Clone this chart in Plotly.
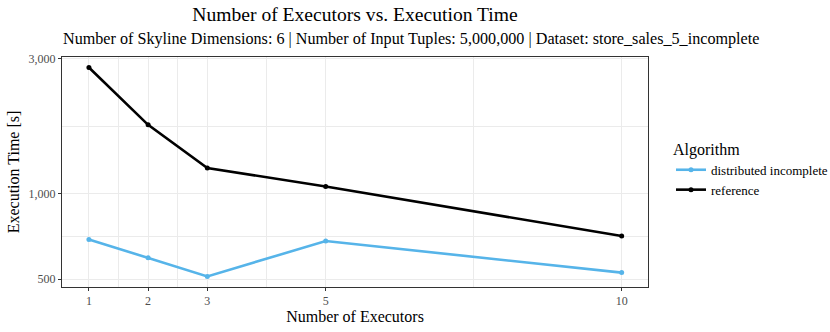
import plotly.graph_objects as go

executors = [1, 2, 3, 5, 10]
distributed_incomplete = [690, 595, 511, 681, 527]
reference = [2790, 1750, 1233, 1061, 709]

x_ticks = [1, 2, 3, 5, 10]
x_minor = [1.5, 2.5, 4, 7.5]
y_ticks = [500, 1000, 3000]
y_tick_labels = ["500", "1,000", "3,000"]
y_minor = [707.1, 1732]

FONT = "Liberation Serif"
GRID = "#EBEBEB"
AXIS = "#333333"

fig = go.Figure()
fig.add_trace(
    go.Scatter(
        x=executors,
        y=distributed_incomplete,
        name="distributed incomplete",
        mode="lines+markers",
        line=dict(color="#56B4E9", width=2.6),
        marker=dict(size=5),
    )
)
fig.add_trace(
    go.Scatter(
        x=executors,
        y=reference,
        name="reference",
        mode="lines+markers",
        line=dict(color="#000000", width=2.6),
        marker=dict(size=5),
    )
)

fig.update_xaxes(
    range=[0.545, 10.445],
    tickvals=x_ticks,
    ticks="outside",
    ticklen=3,
    tickcolor=AXIS,
    tickfont=dict(size=12, color="#4D4D4D"),
    showgrid=True,
    gridcolor=GRID,
    gridwidth=1,
    minor=dict(tickvals=x_minor, showgrid=True, gridcolor=GRID, gridwidth=0.6, ticks=""),
    showline=True,
    linecolor=AXIS,
    mirror=True,
    zeroline=False,
    automargin=False,
    title=dict(text="Number of Executors", font=dict(size=16, color="black"), standoff=2),
)
fig.update_yaxes(
    type="log",
    range=[2.671, 3.4825],
    tickvals=y_ticks,
    ticktext=y_tick_labels,
    ticks="outside",
    ticklen=3,
    tickcolor=AXIS,
    tickfont=dict(size=12, color="#4D4D4D"),
    showgrid=True,
    gridcolor=GRID,
    gridwidth=1,
    minor=dict(tickvals=y_minor, showgrid=True, gridcolor=GRID, gridwidth=0.6, ticks=""),
    showline=True,
    linecolor=AXIS,
    mirror=True,
    zeroline=False,
    automargin=False,
    title=dict(text="Execution Time [s]", font=dict(size=16, color="black"), standoff=4),
)

# subtitle sits centred on the whole figure, not the panel
fig.add_annotation(
    text="Number of Skyline Dimensions: 6 | Number of Input Tuples: 5,000,000 | Dataset: store_sales_5_incomplete",
    xref="paper",
    yref="paper",
    x=(411 - 62) / 586,
    y=1.078,
    xanchor="center",
    yanchor="middle",
    showarrow=False,
    font=dict(size=16.15, color="black", family=FONT),
)

fig.update_layout(
    width=830,
    height=332,
    margin=dict(l=62, r=182, t=57, b=45),
    plot_bgcolor="white",
    paper_bgcolor="white",
    font=dict(family=FONT, color="black"),
    title=dict(
        text="Number of Executors vs. Execution Time",
        x=0.5,
        xref="paper",
        xanchor="center",
        y=1 - 14 / 332,
        yref="container",
        yanchor="middle",
        font=dict(size=19.6, color="black"),
        automargin=False,
    ),
    legend=dict(
        title=dict(text="Algorithm", font=dict(size=16)),
        xref="container",
        x=671 / 830,
        xanchor="left",
        yref="container",
        y=1 - 134 / 332,
        yanchor="top",
        font=dict(size=13),
        itemwidth=30,
        tracegroupgap=0,
    ),
)

fig.write_html(
    "out.html",
    config={"displayModeBar": False},
    post_script="document.body.style.margin='0';",
)
